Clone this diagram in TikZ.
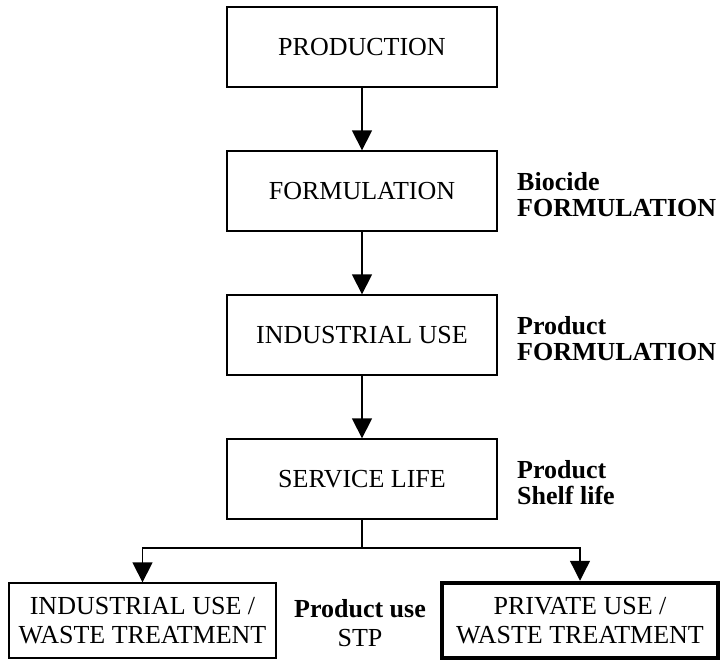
\documentclass[tikz,border=0pt]{standalone}
\usepackage{fontspec}
\setmainfont{Liberation Serif}
\usetikzlibrary{arrows.meta}
\begin{document}
\begin{tikzpicture}[x=1pt,y=1pt,
  box/.style={draw,line width=1.3pt,minimum width=270pt,minimum height=80pt,inner sep=0pt,
    font=\fontsize{26}{29}\selectfont,align=center},
  bbox/.style={draw,line width=1.3pt,minimum height=75pt,inner sep=0pt,
    font=\fontsize{26}{29}\selectfont,align=center},
  thickbox/.style={bbox,line width=4.5pt},
  lab/.style={anchor=west,inner sep=0pt,font=\bfseries\fontsize{26}{26}\selectfont,align=left},
  midlab/.style={inner sep=0pt,font=\fontsize{26}{29}\selectfont,align=center},
  arr/.style={line width=1.3pt,-{Triangle[width=20pt,length=20pt]}},
  ln/.style={line width=1.3pt}]
\useasboundingbox (0,0) rectangle (723,-664);
\node[box] (prod) at (362,-47) {PRODUCTION};
\node[box] (form) at (362,-191) {FORMULATION};
\node[box] (indu) at (362,-335) {INDUSTRIAL USE};
\node[box] (serv) at (362,-479) {SERVICE LIFE};
\node[bbox,minimum width=267pt] (iw) at (142.5,-620.5) {INDUSTRIAL USE /\\WASTE TREATMENT};
\node[thickbox,minimum width=276pt] (pw) at (580,-620.5) {PRIVATE USE /\\WASTE TREATMENT};
\node[lab] (l1) at (517,-195) {Biocide\\FORMULATION};
\node[lab] (l2) at (517,-339) {Product\\FORMULATION};
\node[lab] (l3) at (517,-483) {Product\\Shelf life};
\node[midlab,font=\bfseries\fontsize{26}{29}\selectfont] (l4) at (360,-609) {Product use};
\node[midlab] (l5) at (360,-638) {STP};
\draw[arr] (prod) -- (form);
\draw[arr] (form) -- (indu);
\draw[arr] (indu) -- (serv);
\coordinate (br) at (362,-548);
\draw[ln] (serv.south) -- (br);
\draw[arr] (br) -| (iw.north);
\draw[arr] (br) -| (pw.north);
\end{tikzpicture}
\end{document}
